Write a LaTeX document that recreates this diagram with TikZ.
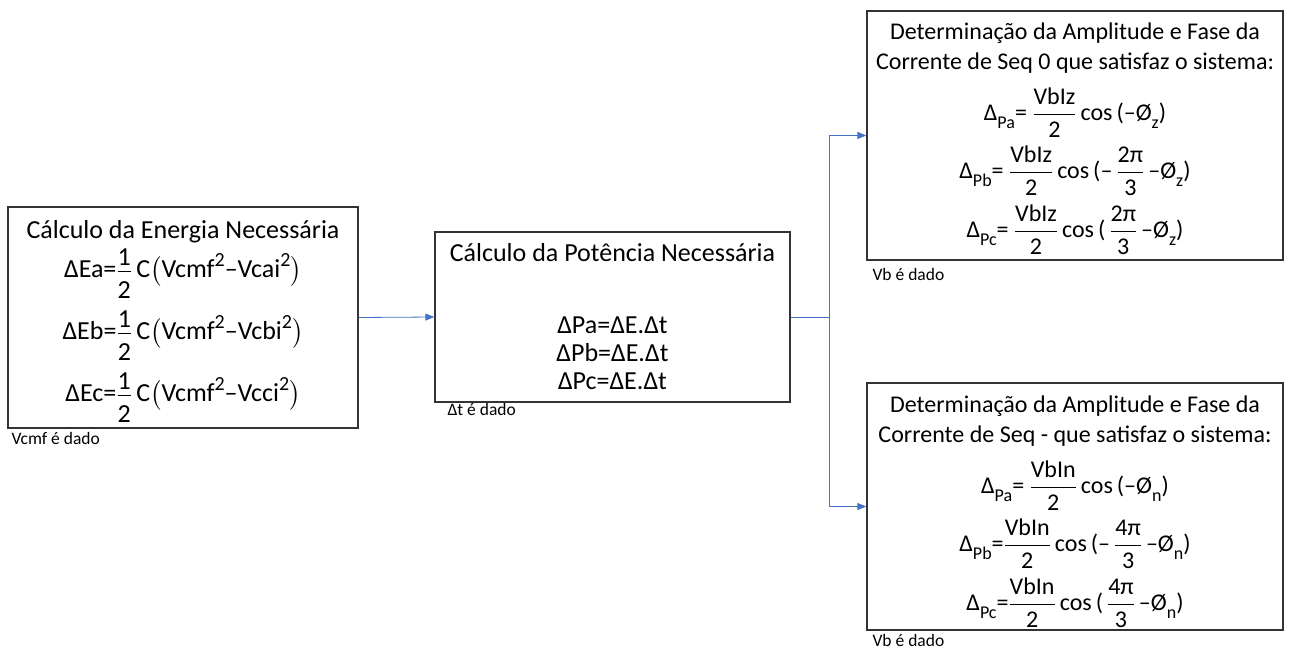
\documentclass[tikz,border=0pt]{standalone}
\usepackage{fontspec}
\usepackage{amsmath}
\setmainfont{Carlito}
\usetikzlibrary{positioning,arrows.meta}

\definecolor{azulseta}{HTML}{4472C4}

% tamanho da fonte com entrelinha fixa
\newcommand{\linhas}[2]{\fontsize{#1}{#2}\selectfont\lineskiplimit=-100pt\relax}

\tikzstyle{etapa} = [draw=black!80, line width=1.3pt, fill=white,
    rectangle, align=center, inner sep=4pt, font=\linhas{26}{31}]
\tikzstyle{seq} = [etapa, inner sep=1pt, font=\linhas{24}{30}]
\tikzstyle{nota} = [font=\fontsize{17.5}{20}\selectfont, inner sep=0pt]
\tikzstyle{seta} = [draw=azulseta, line width=0.8pt, -{Triangle[length=9pt,width=7pt]}]

% fracoes, indices e expoentes com a fonte do texto
\newcommand{\fr}[2]{$\dfrac{\text{#1}}{\text{#2}}$}
\newcommand{\meio}{$\dfrac{\text{\raisebox{-5pt}{1}}}{\text{\raisebox{-4pt}{2}}}$}
\newcommand{\indice}[1]{\raisebox{-0.3em}{\fontsize{18}{18}\selectfont #1}}
\newcommand{\expo}{\raisebox{0.42em}{\fontsize{20}{20}\selectfont 2}}

\begin{document}
\begin{tikzpicture}[x=1pt, y=-1pt]
    \useasboundingbox (0,0) rectangle (1289,652);

    \node [etapa, minimum width=350pt, minimum height=221pt] (energia) at (183,317.5) {%
        \rule{0pt}{26pt}Cálculo da Energia Necessária\\[8pt]
        ΔEa=\meio\,C$\bigl($Vcmf\expo–Vcai\expo$\bigr)$\\[31pt]
        ΔEb=\meio\,C$\bigl($Vcmf\expo–Vcbi\expo$\bigr)$\\[31pt]
        ΔEc=\meio\,C$\bigl($Vcmf\expo–Vcci\expo$\bigr)$
    };
    \node [nota, right=4pt] (dadoE) at ([yshift=-10pt]energia.south west) {Vcmf é dado};

    \node [etapa, minimum width=355pt, minimum height=170pt] (potencia) at (612.5,317) {%
        Cálculo da Potência Necessária\\[41pt]
        ΔPa=ΔE.Δt\\[-3pt]
        ΔPb=ΔE.Δt\\[-3pt]
        ΔPc=ΔE.Δt
    };
    \node [nota, right=13pt] (dadoP) at ([yshift=-7pt]potencia.south west) {Δt é dado};

%------------ correntes de sequencia zero e negativa ---------------------
    \node [seq, minimum width=416pt, minimum height=249pt] (seqzero) at (1075,135.5) {%
        \rule{0pt}{24pt}Determinação da Amplitude e Fase da\\
        Corrente de Seq 0 que satisfaz o sistema:\\[21pt]
        Δ\indice{Pa}= \fr{VbIz}{2}\,cos\,(–Ø\indice{z})\\[28pt]
        Δ\indice{Pb}= \fr{VbIz}{2}\,cos\,(–\,\fr{2π}{3}\,–Ø\indice{z})\\[29pt]
        Δ\indice{Pc}= \fr{VbIz}{2}\,cos\,(\,\fr{2π}{3}\,–Ø\indice{z})
    };
    \node [nota, right=6pt] (dadoZ) at ([yshift=-14pt]seqzero.south west) {Vb é dado};

    \node [seq, minimum width=416pt, minimum height=247pt] (seqneg) at (1075,506.5) {%
        \rule{0pt}{28pt}Determinação da Amplitude e Fase da\\
        Corrente de Seq - que satisfaz o sistema:\\[21pt]
        Δ\indice{Pa}= \fr{VbIn}{2}\,cos\,(–Ø\indice{n})\\[28pt]
        Δ\indice{Pb}=\fr{VbIn}{2}\,cos\,(–\,\fr{4π}{3}\,–Ø\indice{n})\\[29pt]
        Δ\indice{Pc}=\fr{VbIn}{2}\,cos\,(\,\fr{4π}{3}\,–Ø\indice{n})
    };
    \node [nota, right=6pt] (dadoN) at ([yshift=-10pt]seqneg.south west) {Vb é dado};

    \draw [seta] (energia.east) -- (potencia.west);
    \coordinate (ramo) at ([xshift=39pt]potencia.east);
    \draw [draw=azulseta, line width=0.8pt] (potencia.east) -- (ramo);
    \draw [seta] (ramo) |- (seqzero.west);
    \draw [seta] (ramo) |- (seqneg.west);
\end{tikzpicture}
\end{document}
